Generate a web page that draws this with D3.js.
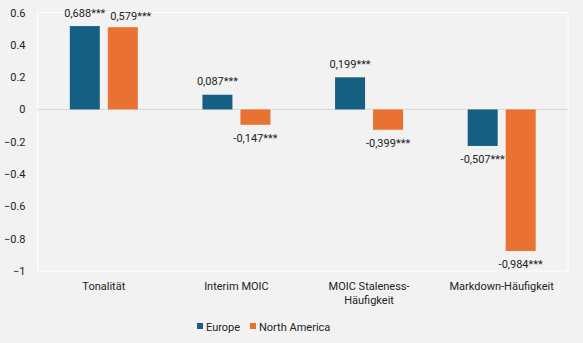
<!DOCTYPE html>
<html><head><meta charset="utf-8">
<script src="https://cdn.jsdelivr.net/npm/d3@7"></script>
<style>
html,body{margin:0;padding:0;background:#f2f2f2;}
svg{display:block;font-family:Roboto,"Liberation Sans",sans-serif;}
</style></head>
<body><svg id="c" width="583" height="343"></svg>
<script>
const categories = [["Tonalität"], ["Interim MOIC"], ["MOIC Staleness-", "Häufigkeit"], ["Markdown-Häufigkeit"]];
const seriesNames = ["Europe", "North America"];
const europeValues = [0.516, 0.091, 0.199, -0.226];
const northAmericaValues = [0.509, -0.095, -0.126, -0.876];
const europeLabels = ["0,688***", "0,087***", "0,199***", "-0,507***"];
const northAmericaLabels = ["0,579***", "-0,147***", "-0,399***", "-0,984***"];
const yTicks = [0.6, 0.4, 0.2, 0, -0.2, -0.4, -0.6, -0.8, -1];
const colors = ["#156082", "#E97132"];

(function(){
const svg = d3.select("#c");
const mL = 37.5, mR = 568, mT = 12.5, mB = 271;
const y = d3.scaleLinear().domain([-1, 0.6]).range([mB, mT]);
const x0 = d3.scaleBand().domain(d3.range(categories.length)).range([mL, mR]);
const x1 = d3.scaleBand().domain(d3.range(seriesNames.length)).range([0, 68]).paddingInner(8 / 38);

svg.append("rect").attr("x", mL).attr("y", mT).attr("width", mR - mL).attr("height", mB - mT)
  .attr("fill", "none").attr("stroke", "#ffffff").attr("stroke-width", 1);

const yAxis = d3.axisLeft(y).tickValues(yTicks).tickSize(0).tickPadding(12).tickFormat(d => d3.format("")(d));
const ga = svg.append("g").attr("transform", `translate(${mL},0)`).call(yAxis);
ga.select(".domain").remove();
ga.selectAll("text").attr("font-size", 11).attr("fill", "#222").attr("font-family", "Roboto, sans-serif");

svg.append("line").attr("x1", mL).attr("x2", mR).attr("y1", y(0)).attr("y2", y(0))
  .attr("stroke", "#d9d9d9").attr("stroke-width", 1);

const series = [europeValues, northAmericaValues];
const labels = [europeLabels, northAmericaLabels];
series.forEach((vals, s) => {
  const g = svg.append("g");
  vals.forEach((v, i) => {
    const bx = x0(i) + x0.bandwidth() / 2 - 34 + x1(s);
    g.append("rect").attr("x", bx).attr("width", x1.bandwidth())
      .attr("y", y(Math.max(0, v))).attr("height", Math.abs(y(v) - y(0)))
      .attr("fill", colors[s]);
    // nudge the second label of the first group to avoid colliding with its neighbour
    const nudge = (i === 0 && s === 1) ? [8, 2] : [0, 0];
    g.append("text").attr("x", bx + x1.bandwidth() / 2 + nudge[0])
      .attr("y", (v >= 0 ? y(v) - 9.5 : y(v) + 17) + nudge[1])
      .attr("text-anchor", "middle").attr("font-size", 11).attr("fill", "#222")
      .text(labels[s][i]);
  });
});

categories.forEach((lines, i) => {
  const t = svg.append("text").attr("text-anchor", "middle").attr("font-size", 11).attr("fill", "#222");
  lines.forEach((ln, k) => {
    t.append("tspan").attr("x", x0(i) + x0.bandwidth() / 2).attr("y", 290 + k * 13.5).text(ln);
  });
});

const legend = [{x: 197, name: seriesNames[0], c: colors[0]}, {x: 250, name: seriesNames[1], c: colors[1]}];
legend.forEach(l => {
  svg.append("rect").attr("x", l.x).attr("y", 323).attr("width", 6).attr("height", 6).attr("fill", l.c);
  svg.append("text").attr("x", l.x + 9).attr("y", 330.5).attr("font-size", 11).attr("fill", "#222").text(l.name);
});
})();
</script></body></html>
